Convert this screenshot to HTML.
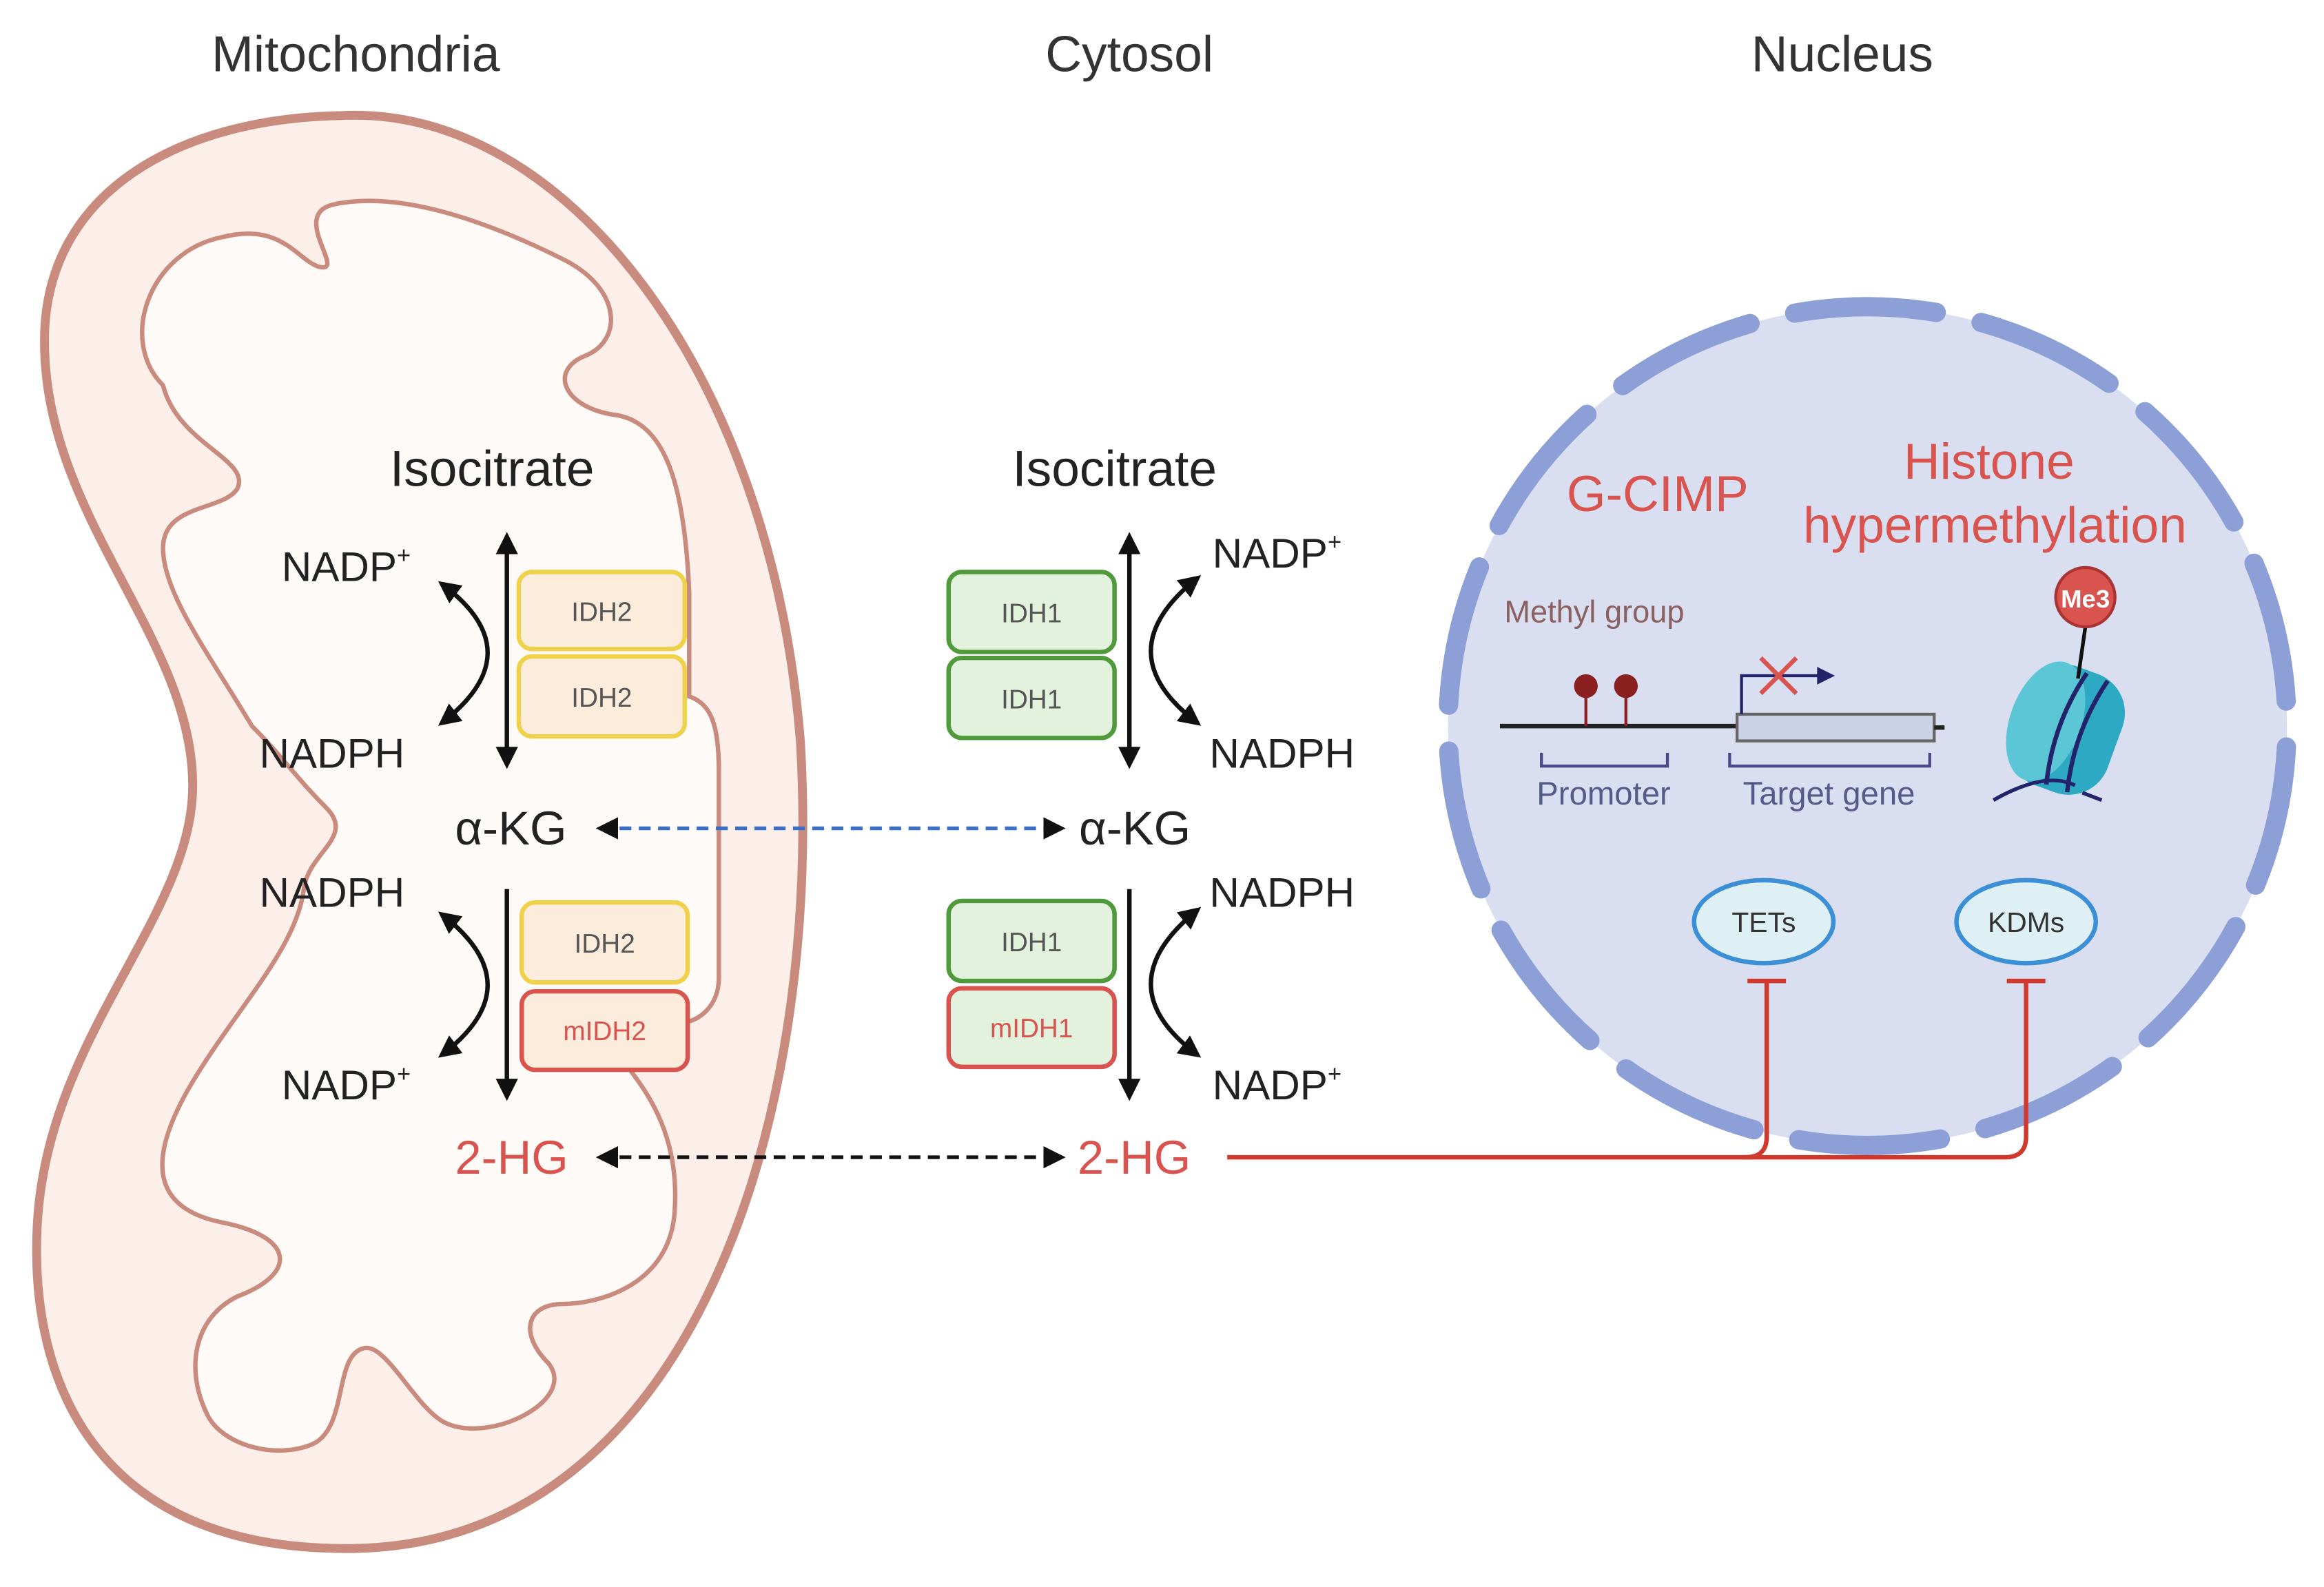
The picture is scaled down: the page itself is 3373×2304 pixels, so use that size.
<!DOCTYPE html>
<html><head><meta charset="utf-8"><style>html,body{margin:0;padding:0;background:#fff}svg{display:block}text{font-family:"Liberation Sans",sans-serif}</style></head>
<body>
<svg width="3373" height="2304" viewBox="0 0 1568 1071" xmlns="http://www.w3.org/2000/svg">
<defs>
<marker id="ah" viewBox="0 0 10 10" refX="8" refY="5" markerWidth="5" markerHeight="5" orient="auto-start-reverse"><path d="M0 0 L10 5 L0 10 Z" fill="#111"/></marker>
<marker id="ah2" viewBox="0 0 10 10" refX="8" refY="5" markerWidth="6" markerHeight="6" orient="auto-start-reverse"><path d="M0 0 L10 5 L0 10 Z" fill="#111"/></marker>
</defs>
<rect width="1568" height="1071" fill="#fff"/>
<g font-size="34" fill="#333" text-anchor="middle">
<text x="240" y="48">Mitochondria</text><text x="762" y="48">Cytosol</text><text x="1243" y="48">Nucleus</text></g>
<!-- mitochondria -->
<path d="M230 78 C380 70 520 250 540 500 C555 750 470 1040 240 1045 C80 1048 20 950 25 830 C30 700 130 620 130 530 C130 430 30 350 30 230 C30 130 120 80 230 78 Z" fill="#fcefea" stroke="#c98b7d" stroke-width="6"/>
<path d="M110 260 C80 230 100 170 150 160 C190 150 200 175 215 180 C235 185 195 145 225 138 C270 128 330 150 380 175 C420 195 420 230 395 240 C370 250 380 275 415 280 C450 285 462 330 465 400 L465 470 C480 475 485 490 485 520 L485 660 C485 680 470 690 460 690 L420 715 C430 730 460 760 455 820 C450 870 400 880 380 880 C355 880 350 900 370 920 C390 945 330 975 300 960 C280 950 260 905 245 910 C225 915 235 965 210 975 C185 985 150 975 140 955 C125 925 130 890 160 875 C200 860 200 835 150 825 C100 815 100 780 130 730 C160 680 200 640 205 600 C208 575 240 565 220 545 C200 525 190 510 170 490 C140 440 110 400 110 370 C110 340 150 345 160 330 C170 310 120 300 110 260 Z" fill="#fefaf8" stroke="#c98b7d" stroke-width="3"/>
<!-- mito pathway -->
<g font-size="28" fill="#222">
<text x="332" y="328" font-size="34" text-anchor="middle">Isocitrate</text>
<text x="190" y="392">NADP<tspan font-size="16" dy="-12">+</tspan></text>
<text x="175" y="518">NADPH</text>
<text x="307" y="570" font-size="32">α-KG</text>
<text x="175" y="612">NADPH</text>
<text x="190" y="742">NADP<tspan font-size="16" dy="-12">+</tspan></text>
<text x="307" y="792" font-size="32" fill="#d9534f">2-HG</text>
<text x="752" y="328" font-size="34" text-anchor="middle">Isocitrate</text>
<text x="818" y="383">NADP<tspan font-size="16" dy="-12">+</tspan></text>
<text x="816" y="518">NADPH</text>
<text x="728" y="570" font-size="32">α-KG</text>
<text x="816" y="612">NADPH</text>
<text x="818" y="742">NADP<tspan font-size="16" dy="-12">+</tspan></text>
<text x="727" y="792" font-size="32" fill="#d9534f">2-HG</text>
</g>
<g stroke="#111" stroke-width="3" fill="none">
<line x1="342" y1="362" x2="342" y2="516" marker-start="url(#ah)" marker-end="url(#ah)"/>
<path d="M298 394 Q360 440 298 488" marker-start="url(#ah)" marker-end="url(#ah)"/>
<line x1="342" y1="600" x2="342" y2="740" marker-end="url(#ah)"/>
<path d="M298 617 Q360 665 298 712" marker-start="url(#ah)" marker-end="url(#ah)"/>
<line x1="762" y1="362" x2="762" y2="516" marker-start="url(#ah)" marker-end="url(#ah)"/>
<path d="M808 390 Q745 440 808 488" marker-start="url(#ah)" marker-end="url(#ah)"/>
<line x1="762" y1="600" x2="762" y2="740" marker-end="url(#ah)"/>
<path d="M808 614 Q745 665 808 712" marker-start="url(#ah)" marker-end="url(#ah)"/>
</g>
<g stroke-width="3" font-size="18" text-anchor="middle">
<rect x="350" y="386" width="112" height="52" rx="9" fill="#fcecdc" stroke="#efd24a"/>
<rect x="350" y="443" width="112" height="54" rx="9" fill="#fcecdc" stroke="#efd24a"/>
<rect x="352" y="609" width="112" height="54" rx="9" fill="#fcecdc" stroke="#efd24a"/>
<rect x="352" y="669" width="112" height="53" rx="9" fill="#fcecdc" stroke="#d9534f"/>
<rect x="640" y="386" width="112" height="54" rx="9" fill="#e2f2dc" stroke="#4f9a3a"/>
<rect x="640" y="444" width="112" height="54" rx="9" fill="#e2f2dc" stroke="#4f9a3a"/>
<rect x="640" y="608" width="112" height="54" rx="9" fill="#e2f2dc" stroke="#4f9a3a"/>
<rect x="640" y="667" width="112" height="53" rx="9" fill="#e2f2dc" stroke="#d9534f"/>
<g stroke="none" fill="#555">
<text x="406" y="419">IDH2</text><text x="406" y="477">IDH2</text><text x="408" y="643">IDH2</text>
<text x="696" y="420">IDH1</text><text x="696" y="478">IDH1</text><text x="696" y="642">IDH1</text>
<text x="408" y="702" fill="#d9534f">mIDH2</text><text x="696" y="700" fill="#d9534f">mIDH1</text></g>
</g>
<!-- dashed transports -->
<line x1="405" y1="559" x2="716" y2="559" stroke="#3a6fc8" stroke-width="2.5" stroke-dasharray="8 5" marker-start="url(#ah2)" marker-end="url(#ah2)"/>
<line x1="405" y1="781" x2="716" y2="781" stroke="#111" stroke-width="2.5" stroke-dasharray="8 5" marker-start="url(#ah2)" marker-end="url(#ah2)"/>
<!-- nucleus -->
<circle cx="1260" cy="490" r="283" fill="#d9def0"/>
<circle cx="1260" cy="490" r="283" fill="none" stroke="#8c9fd6" stroke-width="13" stroke-linecap="round" stroke-dasharray="96 31" transform="rotate(-100 1260 490)"/>
<text x="1057" y="345" font-size="34" fill="#d9534f">G-CIMP</text>
<text x="1342" y="323" font-size="34" fill="#d9534f" text-anchor="middle">Histone</text>
<text x="1346" y="366" font-size="34" fill="#d9534f" text-anchor="middle">hypermethylation</text>
<text x="1015" y="420" font-size="21" fill="#8a6060">Methyl group</text>
<line x1="1012" y1="490" x2="1172" y2="490" stroke="#222" stroke-width="3"/>
<line x1="1070" y1="490" x2="1070" y2="463" stroke="#8b2020" stroke-width="2"/>
<line x1="1097" y1="490" x2="1097" y2="463" stroke="#8b2020" stroke-width="2"/>
<circle cx="1070" cy="463" r="8" fill="#8b2020"/><circle cx="1097" cy="463" r="8" fill="#8b2020"/>
<rect x="1172" y="482" width="133" height="18" fill="#ccd2e6" stroke="#666" stroke-width="2"/>
<line x1="1305" y1="491" x2="1312" y2="491" stroke="#222" stroke-width="3"/>
<path d="M1175 482 V456 H1228" stroke="#23236b" stroke-width="2" fill="none"/>
<path d="M1226 450 L1238 456 L1226 462 Z" fill="#23236b"/>
<path d="M1188 444 L1212 468 M1212 444 L1188 468" stroke="#d9534f" stroke-width="3"/>
<path d="M1040 508 V517 H1125 V508 M1167 508 V517 H1302 V508" stroke="#4a4a8a" stroke-width="2" fill="none"/>
<text x="1082" y="543" font-size="22" fill="#555a88" text-anchor="middle">Promoter</text>
<text x="1234" y="543" font-size="22" fill="#555a88" text-anchor="middle">Target gene</text>
<g transform="rotate(20 1395 490)">
<rect x="1360" y="450" width="70" height="85" rx="28" fill="#2ea9c4"/>
<ellipse cx="1380" cy="492" rx="24" ry="42" fill="#5bc6d6"/>
<path d="M1395 452 Q1385 492 1395 532 M1410 452 Q1400 492 1410 532" stroke="#23236b" stroke-width="3" fill="none"/>
</g>
<path d="M1345 540 Q1380 520 1400 530 M1405 535 L1418 540" stroke="#23236b" stroke-width="2.5" fill="none"/>
<line x1="1407" y1="423" x2="1402" y2="458" stroke="#111" stroke-width="2.5"/>
<circle cx="1407" cy="403" r="20" fill="#d9534f" stroke="#a33" stroke-width="2"/>
<text x="1407" y="410" font-size="17" font-weight="bold" fill="#fff" text-anchor="middle">Me3</text>
<ellipse cx="1190" cy="622" rx="47" ry="28" fill="#dff0f5" stroke="#3a8fd6" stroke-width="3"/>
<ellipse cx="1367" cy="622" rx="47" ry="28" fill="#dff0f5" stroke="#3a8fd6" stroke-width="3"/>
<text x="1190" y="629" font-size="19" fill="#333" text-anchor="middle">TETs</text>
<text x="1367" y="629" font-size="19" fill="#333" text-anchor="middle">KDMs</text>
<!-- inhibition lines -->
<g stroke="#d0392b" stroke-width="3" fill="none">
<path d="M828 781 H1178 Q1192 781 1192 767 V662"/>
<path d="M1178 781 H1353 Q1367 781 1367 767 V662"/>
<line x1="1179" y1="662" x2="1205" y2="662"/>
<line x1="1354" y1="662" x2="1380" y2="662"/>
</g>
</svg>
</body></html>
